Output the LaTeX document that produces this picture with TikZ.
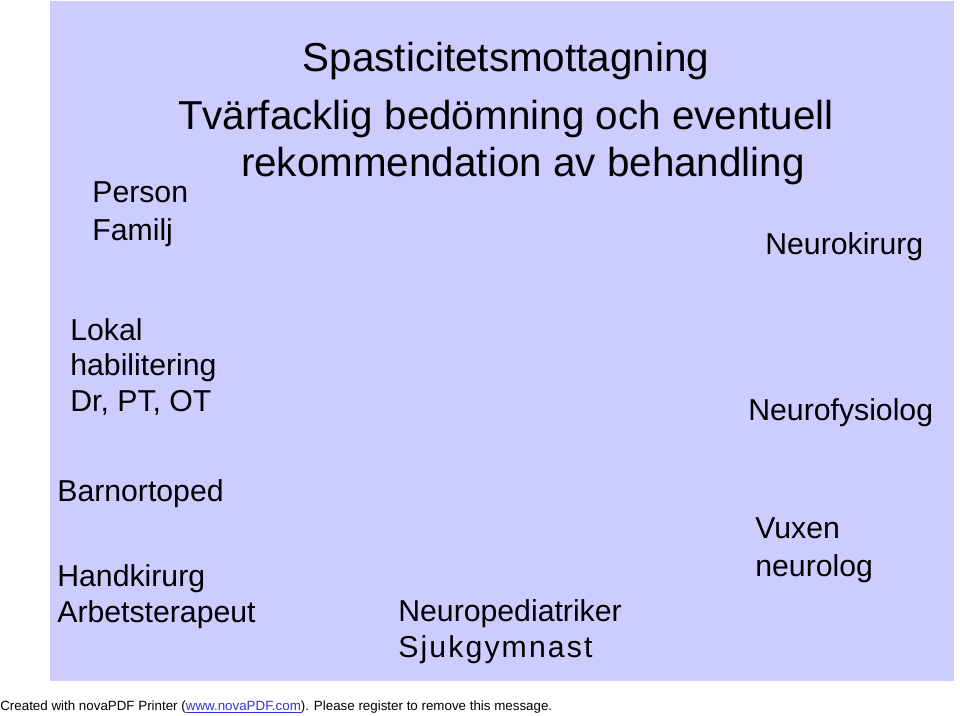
\documentclass[tikz,border=0pt]{standalone}
\usepackage{fontspec}
\setmainfont{Liberation Sans}
\usepackage{xcolor}
\definecolor{fond}{RGB}{204,204,255}
\definecolor{lien}{RGB}{51,51,204}

\begin{document}
\begin{tikzpicture}[x=0.02cm,y=-0.02cm,
  txt/.style={anchor=base west,inner sep=0pt,font=\fontsize{17.2}{20}\selectfont},
  titre/.style={anchor=base,inner sep=0pt,font=\fontsize{23}{26}\selectfont}]
\useasboundingbox (0,0) rectangle (960,716);
%fond
\fill [fond] (50,1) rectangle (954,681);

%titres
\node[titre] (spast) at (506,72) {Spasticitetsmottagning};
\node[titre] (tvar) at (506,130) {Tvärfacklig bedömning och eventuell};
\node[titre] (rekom) at (523,177) {rekommendation av behandling};

%gauche
\node[txt] (person) at (92,203) {Person};
\node[txt] (familj) at (92,241) {Familj};
\node[txt] (lokal) at (70,340) {Lokal};
\node[txt] (habil) at (70,375) {habilitering};
\node[txt] (drpt) at (70,411) {Dr, PT, OT};
\node[txt] (barnort) at (57,501) {Barnortoped};
\node[txt] (handk) at (57,586) {Handkirurg};
\node[txt] (arbter) at (57,622) {Arbetsterapeut};

%milieu
\node[txt] (neuroped) at (398,621) {Neuropediatriker};
\node[txt] (sjukg) at (398,657) {\addfontfeature{LetterSpace=7}Sjukgymnast};

%droite
\node[txt] (neurok) at (765,255) {Neurokirurg};
\node[txt] (neurof) at (748,420) {Neurofysiolog};
\node[txt] (vuxen) at (755,538) {Vuxen};
\node[txt] (neurol) at (755,576) {neurolog};

%bas de page
\node[anchor=base west,inner sep=0pt,font=\fontsize{7.6}{9}\selectfont] (pied) at (0,710)
  {Created with novaPDF Printer (\textcolor{lien}{\underline{www.novaPDF.com}}). Please register to remove this message.};
\end{tikzpicture}
\end{document}
